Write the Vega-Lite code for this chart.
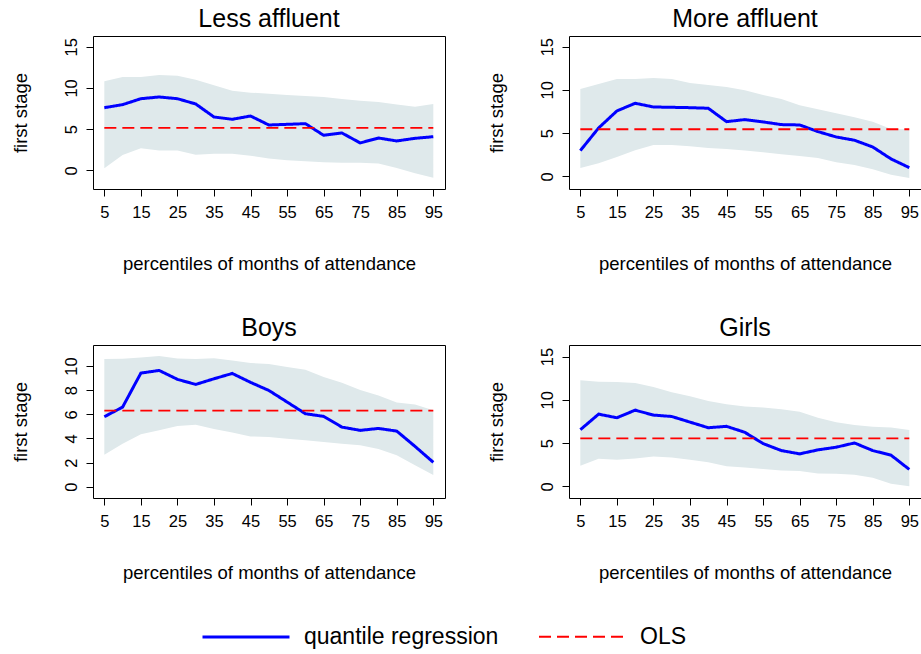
{
  "$schema": "https://vega.github.io/schema/vega-lite/v6.json",
  "padding": {"left": 10, "top": 6, "right": 0, "bottom": 0},
  "background": "white",
  "datasets": {
    "d": [
      {"g":"LA","p":5,"lo":0.24,"hi":10.80,"v":7.60,"s":"quantile regression"},
      {"g":"LA","p":10,"lo":1.86,"hi":11.32,"v":7.97,"s":"quantile regression"},
      {"g":"LA","p":15,"lo":2.67,"hi":11.32,"v":8.69,"s":"quantile regression"},
      {"g":"LA","p":20,"lo":2.39,"hi":11.56,"v":8.90,"s":"quantile regression"},
      {"g":"LA","p":25,"lo":2.39,"hi":11.48,"v":8.69,"s":"quantile regression"},
      {"g":"LA","p":30,"lo":1.90,"hi":11.00,"v":8.05,"s":"quantile regression"},
      {"g":"LA","p":35,"lo":2.02,"hi":10.31,"v":6.47,"s":"quantile regression"},
      {"g":"LA","p":40,"lo":2.02,"hi":9.66,"v":6.19,"s":"quantile regression"},
      {"g":"LA","p":45,"lo":1.78,"hi":9.42,"v":6.59,"s":"quantile regression"},
      {"g":"LA","p":50,"lo":1.42,"hi":9.30,"v":5.50,"s":"quantile regression"},
      {"g":"LA","p":55,"lo":1.21,"hi":9.14,"v":5.58,"s":"quantile regression"},
      {"g":"LA","p":60,"lo":1.09,"hi":9.02,"v":5.66,"s":"quantile regression"},
      {"g":"LA","p":65,"lo":0.97,"hi":8.90,"v":4.25,"s":"quantile regression"},
      {"g":"LA","p":70,"lo":0.93,"hi":8.65,"v":4.53,"s":"quantile regression"},
      {"g":"LA","p":75,"lo":0.93,"hi":8.45,"v":3.32,"s":"quantile regression"},
      {"g":"LA","p":80,"lo":0.81,"hi":8.29,"v":3.92,"s":"quantile regression"},
      {"g":"LA","p":85,"lo":0.28,"hi":8.00,"v":3.56,"s":"quantile regression"},
      {"g":"LA","p":90,"lo":-0.36,"hi":7.72,"v":3.88,"s":"quantile regression"},
      {"g":"LA","p":95,"lo":-0.89,"hi":8.05,"v":4.08,"s":"quantile regression"},
      {"g":"LA","p":5,"v":5.14,"s":"OLS"},
      {"g":"LA","p":95,"v":5.14,"s":"OLS"},
      {"g":"MA","p":5,"lo":0.96,"hi":10.10,"v":2.97,"s":"quantile regression"},
      {"g":"MA","p":10,"lo":1.50,"hi":10.68,"v":5.59,"s":"quantile regression"},
      {"g":"MA","p":15,"lo":2.24,"hi":11.26,"v":7.56,"s":"quantile regression"},
      {"g":"MA","p":20,"lo":3.01,"hi":11.26,"v":8.45,"s":"quantile regression"},
      {"g":"MA","p":25,"lo":3.63,"hi":11.38,"v":8.02,"s":"quantile regression"},
      {"g":"MA","p":30,"lo":3.63,"hi":11.26,"v":7.98,"s":"quantile regression"},
      {"g":"MA","p":35,"lo":3.47,"hi":10.80,"v":7.94,"s":"quantile regression"},
      {"g":"MA","p":40,"lo":3.28,"hi":10.57,"v":7.87,"s":"quantile regression"},
      {"g":"MA","p":45,"lo":3.16,"hi":10.34,"v":6.32,"s":"quantile regression"},
      {"g":"MA","p":50,"lo":2.97,"hi":9.95,"v":6.56,"s":"quantile regression"},
      {"g":"MA","p":55,"lo":2.78,"hi":9.41,"v":6.29,"s":"quantile regression"},
      {"g":"MA","p":60,"lo":2.55,"hi":8.95,"v":5.98,"s":"quantile regression"},
      {"g":"MA","p":65,"lo":2.35,"hi":8.21,"v":5.94,"s":"quantile regression"},
      {"g":"MA","p":70,"lo":2.12,"hi":7.75,"v":5.17,"s":"quantile regression"},
      {"g":"MA","p":75,"lo":1.62,"hi":7.29,"v":4.55,"s":"quantile regression"},
      {"g":"MA","p":80,"lo":1.31,"hi":6.83,"v":4.17,"s":"quantile regression"},
      {"g":"MA","p":85,"lo":0.81,"hi":6.32,"v":3.39,"s":"quantile regression"},
      {"g":"MA","p":90,"lo":0.19,"hi":5.48,"v":2.01,"s":"quantile regression"},
      {"g":"MA","p":95,"lo":-0.19,"hi":5.44,"v":1.00,"s":"quantile regression"},
      {"g":"MA","p":5,"v":5.44,"s":"OLS"},
      {"g":"MA","p":95,"v":5.44,"s":"OLS"},
      {"g":"B","p":5,"lo":2.65,"hi":10.58,"v":5.80,"s":"quantile regression"},
      {"g":"B","p":10,"lo":3.56,"hi":10.61,"v":6.60,"s":"quantile regression"},
      {"g":"B","p":15,"lo":4.34,"hi":10.72,"v":9.42,"s":"quantile regression"},
      {"g":"B","p":20,"lo":4.67,"hi":10.83,"v":9.64,"s":"quantile regression"},
      {"g":"B","p":25,"lo":5.03,"hi":10.64,"v":8.90,"s":"quantile regression"},
      {"g":"B","p":30,"lo":5.14,"hi":10.58,"v":8.48,"s":"quantile regression"},
      {"g":"B","p":35,"lo":4.78,"hi":10.66,"v":8.95,"s":"quantile regression"},
      {"g":"B","p":40,"lo":4.50,"hi":10.47,"v":9.39,"s":"quantile regression"},
      {"g":"B","p":45,"lo":4.17,"hi":10.25,"v":8.65,"s":"quantile regression"},
      {"g":"B","p":50,"lo":4.12,"hi":10.17,"v":7.98,"s":"quantile regression"},
      {"g":"B","p":55,"lo":3.98,"hi":9.92,"v":7.02,"s":"quantile regression"},
      {"g":"B","p":60,"lo":3.84,"hi":9.70,"v":6.05,"s":"quantile regression"},
      {"g":"B","p":65,"lo":3.70,"hi":9.09,"v":5.83,"s":"quantile regression"},
      {"g":"B","p":70,"lo":3.56,"hi":8.62,"v":4.94,"s":"quantile regression"},
      {"g":"B","p":75,"lo":3.43,"hi":8.01,"v":4.67,"s":"quantile regression"},
      {"g":"B","p":80,"lo":3.12,"hi":7.57,"v":4.83,"s":"quantile regression"},
      {"g":"B","p":85,"lo":2.60,"hi":6.99,"v":4.61,"s":"quantile regression"},
      {"g":"B","p":90,"lo":1.77,"hi":6.82,"v":3.34,"s":"quantile regression"},
      {"g":"B","p":95,"lo":0.97,"hi":6.33,"v":2.02,"s":"quantile regression"},
      {"g":"B","p":5,"v":6.30,"s":"OLS"},
      {"g":"B","p":95,"v":6.30,"s":"OLS"},
      {"g":"G","p":5,"lo":2.37,"hi":12.25,"v":6.54,"s":"quantile regression"},
      {"g":"G","p":10,"lo":3.18,"hi":12.09,"v":8.34,"s":"quantile regression"},
      {"g":"G","p":15,"lo":3.06,"hi":12.06,"v":7.92,"s":"quantile regression"},
      {"g":"G","p":20,"lo":3.21,"hi":11.94,"v":8.80,"s":"quantile regression"},
      {"g":"G","p":25,"lo":3.44,"hi":11.48,"v":8.23,"s":"quantile regression"},
      {"g":"G","p":30,"lo":3.33,"hi":10.87,"v":8.07,"s":"quantile regression"},
      {"g":"G","p":35,"lo":3.06,"hi":10.41,"v":7.42,"s":"quantile regression"},
      {"g":"G","p":40,"lo":2.79,"hi":9.87,"v":6.77,"s":"quantile regression"},
      {"g":"G","p":45,"lo":2.33,"hi":9.49,"v":6.93,"s":"quantile regression"},
      {"g":"G","p":50,"lo":2.18,"hi":9.22,"v":6.24,"s":"quantile regression"},
      {"g":"G","p":55,"lo":1.99,"hi":9.11,"v":4.94,"s":"quantile regression"},
      {"g":"G","p":60,"lo":1.84,"hi":8.92,"v":4.13,"s":"quantile regression"},
      {"g":"G","p":65,"lo":1.76,"hi":8.61,"v":3.75,"s":"quantile regression"},
      {"g":"G","p":70,"lo":1.49,"hi":7.92,"v":4.21,"s":"quantile regression"},
      {"g":"G","p":75,"lo":1.45,"hi":7.39,"v":4.52,"s":"quantile regression"},
      {"g":"G","p":80,"lo":1.34,"hi":7.08,"v":5.01,"s":"quantile regression"},
      {"g":"G","p":85,"lo":1.00,"hi":6.89,"v":4.13,"s":"quantile regression"},
      {"g":"G","p":90,"lo":0.31,"hi":6.81,"v":3.60,"s":"quantile regression"},
      {"g":"G","p":95,"lo":0.00,"hi":6.51,"v":1.95,"s":"quantile regression"},
      {"g":"G","p":5,"v":5.55,"s":"OLS"},
      {"g":"G","p":95,"v":5.55,"s":"OLS"}
    ]
  },
  "columns": 2,
  "spacing": {"column": 40, "row": 41},
  "concat": [
    {
      "title": "Less affluent",
      "width": 352, "height": 153,
      "data": {"name": "d"},
      "transform": [{"filter": "datum.g == 'LA'"}],
      "encoding": {
        "x": {"field": "p", "type": "quantitative", "scale": {"domain": [1.9, 98.2], "nice": false, "zero": false}, "axis": {"values": [5,15,25,35,45,55,65,75,85,95], "tickCount": 20, "format": "d", "title": "percentiles of months of attendance", "labelOverlap": false}}
      },
      "layer": [
        {"transform": [{"filter": "datum.s == 'quantile regression'"}], "mark": {"type": "area", "color": "#dfe9eb", "opacity": 1},
         "encoding": {"y": {"field": "lo", "type": "quantitative", "scale": {"domain": [-2.27, 16.3], "nice": false, "zero": false}, "axis": {"values": [0,5,10,15], "tickCount": 20, "format": "d", "title": "first stage", "labelOverlap": false}}, "y2": {"field": "hi"}}},
        {"transform": [{"filter": "datum.s == 'quantile regression'"}], "mark": {"type": "line"},
         "encoding": {"y": {"field": "v", "type": "quantitative", "axis": {"values": [0,5,10,15], "tickCount": 20, "format": "d", "title": "first stage", "labelOverlap": false}},
           "color": {"field": "s", "type": "nominal", "scale": {"domain": ["quantile regression","OLS"], "range": ["#0000ff","#ff0000"]}, "legend": {"orient": "none", "legendX": 108, "legendY": 556, "direction": "horizontal", "title": null}},
           "strokeDash": {"field": "s", "type": "nominal", "scale": {"domain": ["quantile regression","OLS"], "range": [[1,0],[12,6]]}, "legend": {"orient": "none", "legendX": 108, "legendY": 556, "direction": "horizontal", "title": null}},
           "strokeWidth": {"field": "s", "type": "nominal", "scale": {"domain": ["quantile regression","OLS"], "range": [3,1.8]}, "legend": {"orient": "none", "legendX": 108, "legendY": 556, "direction": "horizontal", "title": null}}}},
        {"transform": [{"filter": "datum.s == 'OLS'"}], "mark": {"type": "line"},
         "encoding": {"y": {"field": "v", "type": "quantitative", "axis": {"values": [0,5,10,15], "tickCount": 20, "format": "d", "title": "first stage", "labelOverlap": false}},
           "color": {"field": "s", "type": "nominal"},
           "strokeDash": {"field": "s", "type": "nominal"},
           "strokeWidth": {"field": "s", "type": "nominal"}}}
      ]
    },
    {
      "title": "More affluent",
      "width": 352, "height": 153,
      "data": {"name": "d"},
      "transform": [{"filter": "datum.g == 'MA'"}],
      "encoding": {
        "x": {"field": "p", "type": "quantitative", "scale": {"domain": [1.9, 98.2], "nice": false, "zero": false}, "axis": {"values": [5,15,25,35,45,55,65,75,85,95], "tickCount": 20, "format": "d", "title": "percentiles of months of attendance", "labelOverlap": false}}
      },
      "layer": [
        {"transform": [{"filter": "datum.s == 'quantile regression'"}], "mark": {"type": "area", "color": "#dfe9eb", "opacity": 1},
         "encoding": {"y": {"field": "lo", "type": "quantitative", "scale": {"domain": [-1.47, 16.23], "nice": false, "zero": false}, "axis": {"values": [0,5,10,15], "tickCount": 20, "format": "d", "title": "first stage", "labelOverlap": false}}, "y2": {"field": "hi"}}},
        {"transform": [{"filter": "datum.s == 'quantile regression'"}], "mark": {"type": "line"},
         "encoding": {"y": {"field": "v", "type": "quantitative", "axis": {"values": [0,5,10,15], "tickCount": 20, "format": "d", "title": "first stage", "labelOverlap": false}}, "color": {"field": "s", "type": "nominal"}, "strokeDash": {"field": "s", "type": "nominal"}, "strokeWidth": {"field": "s", "type": "nominal"}}},
        {"transform": [{"filter": "datum.s == 'OLS'"}], "mark": {"type": "line"},
         "encoding": {"y": {"field": "v", "type": "quantitative", "axis": {"values": [0,5,10,15], "tickCount": 20, "format": "d", "title": "first stage", "labelOverlap": false}}, "color": {"field": "s", "type": "nominal"}, "strokeDash": {"field": "s", "type": "nominal"}, "strokeWidth": {"field": "s", "type": "nominal"}}}
      ]
    },
    {
      "title": "Boys",
      "width": 352, "height": 153,
      "data": {"name": "d"},
      "transform": [{"filter": "datum.g == 'B'"}],
      "encoding": {
        "x": {"field": "p", "type": "quantitative", "scale": {"domain": [1.9, 98.2], "nice": false, "zero": false}, "axis": {"values": [5,15,25,35,45,55,65,75,85,95], "tickCount": 20, "format": "d", "title": "percentiles of months of attendance", "labelOverlap": false}}
      },
      "layer": [
        {"transform": [{"filter": "datum.s == 'quantile regression'"}], "mark": {"type": "area", "color": "#dfe9eb", "opacity": 1},
         "encoding": {"y": {"field": "lo", "type": "quantitative", "scale": {"domain": [-0.94, 11.75], "nice": false, "zero": false}, "axis": {"values": [0,2,4,6,8,10], "tickCount": 20, "format": "d", "title": "first stage", "labelOverlap": false}}, "y2": {"field": "hi"}}},
        {"transform": [{"filter": "datum.s == 'quantile regression'"}], "mark": {"type": "line"},
         "encoding": {"y": {"field": "v", "type": "quantitative", "axis": {"values": [0,2,4,6,8,10], "tickCount": 20, "format": "d", "title": "first stage", "labelOverlap": false}}, "color": {"field": "s", "type": "nominal"}, "strokeDash": {"field": "s", "type": "nominal"}, "strokeWidth": {"field": "s", "type": "nominal"}}},
        {"transform": [{"filter": "datum.s == 'OLS'"}], "mark": {"type": "line"},
         "encoding": {"y": {"field": "v", "type": "quantitative", "axis": {"values": [0,2,4,6,8,10], "tickCount": 20, "format": "d", "title": "first stage", "labelOverlap": false}}, "color": {"field": "s", "type": "nominal"}, "strokeDash": {"field": "s", "type": "nominal"}, "strokeWidth": {"field": "s", "type": "nominal"}}}
      ]
    },
    {
      "title": "Girls",
      "width": 352, "height": 153,
      "data": {"name": "d"},
      "transform": [{"filter": "datum.g == 'G'"}],
      "encoding": {
        "x": {"field": "p", "type": "quantitative", "scale": {"domain": [1.9, 98.2], "nice": false, "zero": false}, "axis": {"values": [5,15,25,35,45,55,65,75,85,95], "tickCount": 20, "format": "d", "title": "percentiles of months of attendance", "labelOverlap": false}}
      },
      "layer": [
        {"transform": [{"filter": "datum.s == 'quantile regression'"}], "mark": {"type": "area", "color": "#dfe9eb", "opacity": 1},
         "encoding": {"y": {"field": "lo", "type": "quantitative", "scale": {"domain": [-1.35, 16.33], "nice": false, "zero": false}, "axis": {"values": [0,5,10,15], "tickCount": 20, "format": "d", "title": "first stage", "labelOverlap": false}}, "y2": {"field": "hi"}}},
        {"transform": [{"filter": "datum.s == 'quantile regression'"}], "mark": {"type": "line"},
         "encoding": {"y": {"field": "v", "type": "quantitative", "axis": {"values": [0,5,10,15], "tickCount": 20, "format": "d", "title": "first stage", "labelOverlap": false}}, "color": {"field": "s", "type": "nominal"}, "strokeDash": {"field": "s", "type": "nominal"}, "strokeWidth": {"field": "s", "type": "nominal"}}},
        {"transform": [{"filter": "datum.s == 'OLS'"}], "mark": {"type": "line"},
         "encoding": {"y": {"field": "v", "type": "quantitative", "axis": {"values": [0,5,10,15], "tickCount": 20, "format": "d", "title": "first stage", "labelOverlap": false}}, "color": {"field": "s", "type": "nominal"}, "strokeDash": {"field": "s", "type": "nominal"}, "strokeWidth": {"field": "s", "type": "nominal"}}}
      ]
    }
  ],
  "config": {
    "font": "Liberation Sans",
    "view": {"stroke": "#000000", "strokeWidth": 1},
    "axis": {"grid": false, "domain": false, "ticks": true, "tickColor": "#000000", "tickSize": 7, "labelFontSize": 16.5, "labelColor": "#000000", "titleFontSize": 18.5, "titleFontWeight": "normal", "titleColor": "#000000", "labelFlush": false, "labelOverlap": false},
    "axisY": {"labelAngle": -90, "labelAlign": "center", "labelBaseline": "bottom", "labelPadding": 7, "titlePadding": 33},
    "axisX": {"labelPadding": 8, "titlePadding": 34},
    "title": {"fontSize": 25, "fontWeight": "normal", "offset": 4, "color": "#000000", "anchor": "middle"},
    "legend": {"symbolType": "stroke", "symbolSize": 7569, "symbolStrokeWidth": 3, "labelFontSize": 23, "labelColor": "#000000", "labelOffset": 13, "columnPadding": 36, "labelLimit": 400}
  }
}
